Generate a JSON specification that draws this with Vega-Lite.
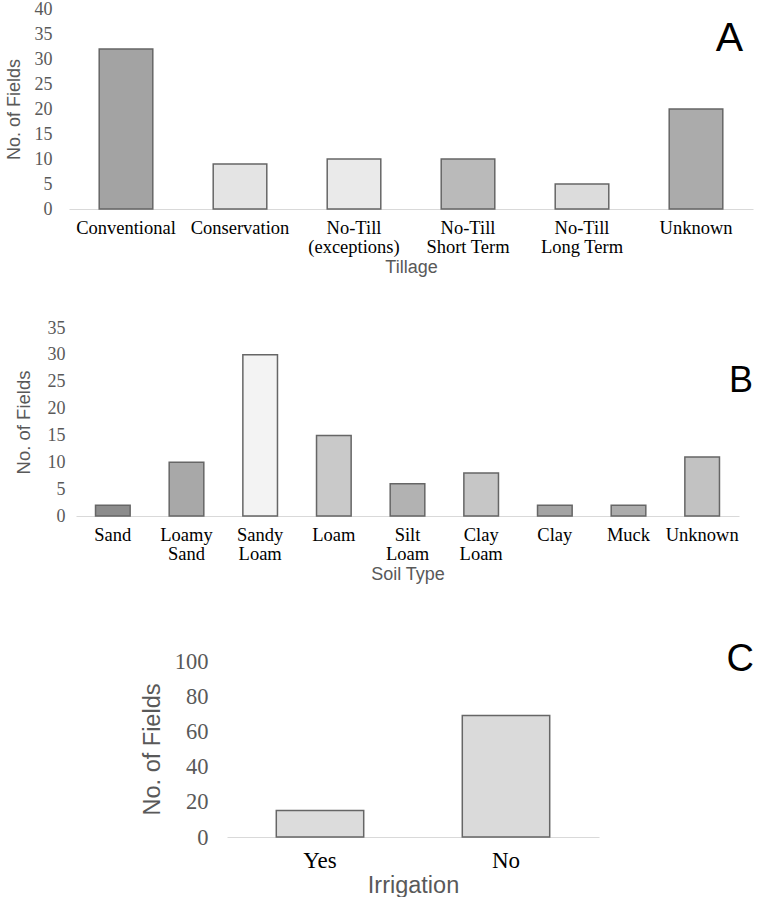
{
  "$schema": "https://vega.github.io/schema/vega-lite/v6.json",
  "background": "white",
  "padding": {"left": 5, "top": 0, "right": 0, "bottom": 0},
  "bounds": "flush",
  "spacing": 119,
  "resolve": {"scale": {"color": "independent"}},
  "config": {
    "view": {"stroke": null},
    "axis": {"grid": false, "ticks": false, "tickSize": 0, "titleFontWeight": "normal", "titleFont": "Liberation Sans", "titleColor": "#595959", "labelFont": "Liberation Serif"},
    "axisX": {"domainColor": "#d9d9d9", "domainWidth": 1.2, "labelAngle": 0, "labelColor": "#000000", "labelLineHeight": 19},
    "axisY": {"domain": false, "labelColor": "#595959"},
    "title": {"anchor": "end", "orient": "top", "frame": "group", "font": "Liberation Sans", "fontWeight": "normal", "color": "#000000", "baseline": "alphabetic"}
  },
  "vconcat": [
    {
      "width": 684,
      "height": 200,
      "title": {"text": "A", "fontSize": 41, "offset": -60, "dx": -10},
      "data": {"values": [
        {"Tillage": "Conventional", "Fields": 32},
        {"Tillage": "Conservation", "Fields": 9},
        {"Tillage": "No-Till (exceptions)", "Fields": 10},
        {"Tillage": "No-Till Short Term", "Fields": 10},
        {"Tillage": "No-Till Long Term", "Fields": 5},
        {"Tillage": "Unknown", "Fields": 20}
      ]},
      "mark": {"type": "bar", "stroke": "#666666", "strokeWidth": 1.5},
      "encoding": {
        "x": {"field": "Tillage", "type": "nominal", "sort": null,
          "scale": {"paddingInner": 0.53, "paddingOuter": 0.265},
          "axis": {"title": "Tillage", "titleFontSize": 18, "titlePadding": 2, "labelFontSize": 18.5, "labelPadding": 9.5,
            "labelExpr": "indexof(datum.label,'No-Till ')==0 ? ['No-Till', substring(datum.label,8)] : datum.label"}},
        "y": {"field": "Fields", "type": "quantitative",
          "scale": {"domain": [0, 40], "nice": false},
          "axis": {"title": "No. of Fields", "values": [0, 5, 10, 15, 20, 25, 30, 35, 40], "labelFontSize": 18, "labelPadding": 17, "titleFontSize": 18, "titlePadding": 11}},
        "color": {"field": "Tillage", "type": "nominal", "legend": null,
          "scale": {"domain": ["Conventional", "Conservation", "No-Till (exceptions)", "No-Till Short Term", "No-Till Long Term", "Unknown"],
            "range": ["#a3a3a3", "#e4e4e4", "#eaeaea", "#bababa", "#dcdcdc", "#ababab"]}}
      }
    },
    {
      "width": 684,
      "height": 188,
      "title": {"text": "B", "fontSize": 36, "offset": -81, "dx": 0},
      "data": {"values": [
        {"Soil": "Sand", "Fields": 2},
        {"Soil": "Loamy Sand", "Fields": 10},
        {"Soil": "Sandy Loam", "Fields": 30},
        {"Soil": "Loam", "Fields": 15},
        {"Soil": "Silt Loam", "Fields": 6},
        {"Soil": "Clay Loam", "Fields": 8},
        {"Soil": "Clay", "Fields": 2},
        {"Soil": "Muck", "Fields": 2},
        {"Soil": "Unknown", "Fields": 11}
      ]},
      "mark": {"type": "bar", "stroke": "#666666", "strokeWidth": 1.5},
      "encoding": {
        "x": {"field": "Soil", "type": "nominal", "sort": null,
          "scale": {"range": [7, 670], "paddingInner": 0.53, "paddingOuter": 0.265},
          "axis": {"title": "Soil Type", "titleFontSize": 18, "titlePadding": 2, "labelFontSize": 18.5, "labelPadding": 9.5,
            "labelExpr": "split(datum.label, ' ')"}},
        "y": {"field": "Fields", "type": "quantitative",
          "scale": {"domain": [0, 35], "nice": false},
          "axis": {"title": "No. of Fields", "values": [0, 5, 10, 15, 20, 25, 30, 35], "labelFontSize": 18, "labelPadding": 4, "titleFontSize": 18.5, "titlePadding": 14}},
        "color": {"field": "Soil", "type": "nominal", "legend": null,
          "scale": {"domain": ["Sand", "Loamy Sand", "Sandy Loam", "Loam", "Silt Loam", "Clay Loam", "Clay", "Muck", "Unknown"],
            "range": ["#8c8c8c", "#a8a8a8", "#f3f3f3", "#c9c9c9", "#b2b2b2", "#c6c6c6", "#a4a4a4", "#acacac", "#c2c2c2"]}}
      }
    },
    {
      "width": 686,
      "height": 202,
      "title": {"text": "C", "fontSize": 38, "offset": -44, "dx": -1},
      "data": {"values": [
        {"Irrigation": "Yes", "Fields": 15},
        {"Irrigation": "No", "Fields": 69}
      ]},
      "mark": {"type": "bar", "stroke": "#666666", "strokeWidth": 1.5},
      "encoding": {
        "x": {"field": "Irrigation", "type": "nominal", "sort": null,
          "scale": {"range": [158, 530], "paddingInner": 0.53, "paddingOuter": 0.265},
          "axis": {"title": "Irrigation", "titleFontSize": 23.5, "titlePadding": 1, "labelFontSize": 23, "labelPadding": 12}},
        "y": {"field": "Fields", "type": "quantitative",
          "scale": {"domain": [0, 100], "nice": false, "range": [202, 26]},
          "axis": {"title": "No. of Fields", "values": [0, 20, 40, 60, 80, 100], "offset": -158, "labelFontSize": 22.5, "labelPadding": 19, "titleFontSize": 23.5, "titlePadding": 10}},
        "color": {"field": "Irrigation", "type": "nominal", "legend": null,
          "scale": {"domain": ["Yes", "No"], "range": ["#dcdcdc", "#dadada"]}}
      }
    }
  ]
}
